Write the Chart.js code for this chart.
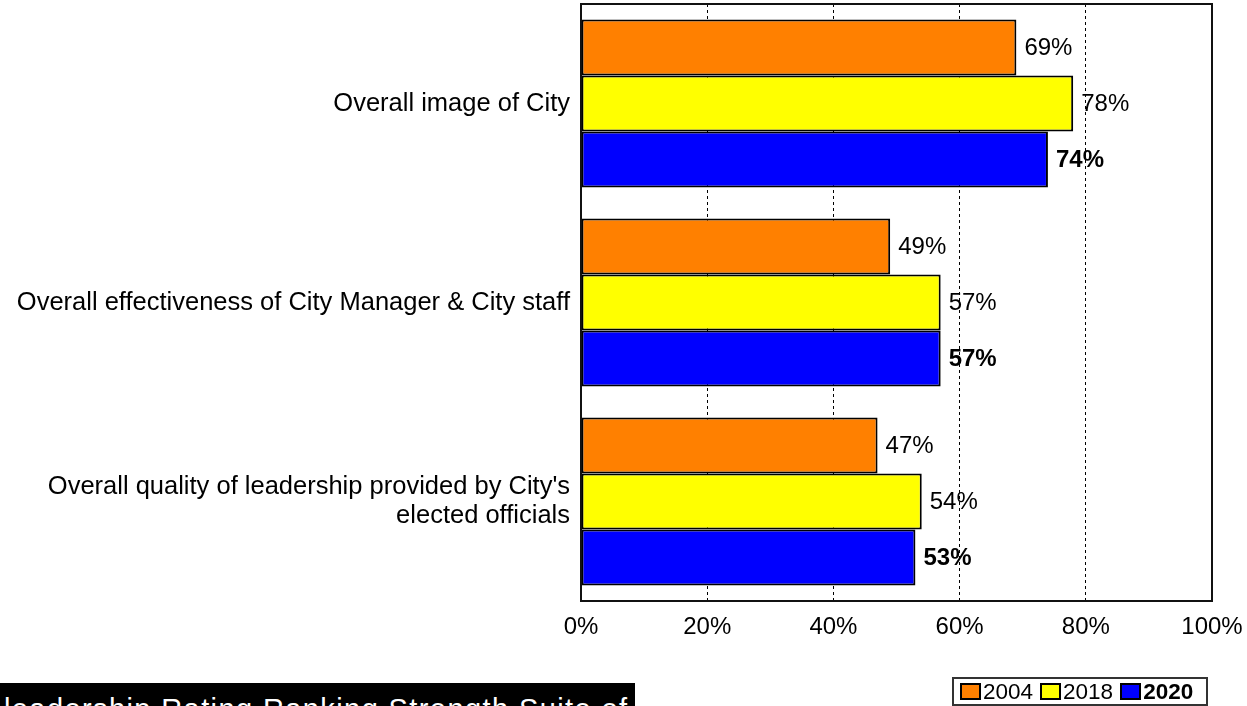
<!DOCTYPE html>
<html>
<head>
<meta charset="utf-8">
<script src="https://cdn.jsdelivr.net/npm/chart.js@4/dist/chart.umd.min.js"></script>
<style>
    html, body { margin: 0; padding: 0; background: #fff; }
    #wrap { position: relative; width: 1247px; height: 706px; overflow: hidden; }
    #chart { position: absolute; left: 0; top: 0; }
    .legend {
        position: absolute; left: 952px; top: 677px; width: 256px; height: 29px;
        border: 2px solid #333; box-sizing: border-box;
        font-family: "Liberation Sans", Arial, sans-serif; font-size: 22.5px; color: #000;
        display: flex; align-items: center; padding-left: 6px;
    }
    .legend span.item { display: flex; align-items: center; margin-right: 7px; }
    .legend span.sw { display: inline-block; width: 17px; height: 13px; border: 2px solid #000; margin-right: 2px; }
    .strip {
        position: absolute; left: 0; top: 683px; width: 635px; height: 23px; background: #000;
        overflow: hidden; color: #fff; font-family: "Liberation Sans", Arial, sans-serif;
        font-size: 29px; line-height: 29px; white-space: nowrap; letter-spacing: 1.4px;
    }
    .strip div { position: absolute; left: 4px; top: 12px; }
</style>
</head>
<body>
<div id="wrap">
    <canvas id="chart" width="1247" height="706"></canvas>
    <div class="legend" id="legend"></div>
    <div class="strip"><div>leadership Rating Ranking Strength Suite of</div></div>
</div>
<script>
// chart data
const categories = [
    ["Overall image of City"],
    ["Overall effectiveness of City Manager & City staff"],
    ["Overall quality of leadership provided by City's", "elected officials"]
];
const years = ["2004", "2018", "2020"];
const values2004 = [69, 49, 47];
const values2018 = [78, 57, 54];
const values2020 = [74, 57, 53];
const tickLabels = ["0%", "20%", "40%", "60%", "80%", "100%"];
const colors = ["#FF8000", "#FFFF00", "#0000FF"];

const FONT = '"Liberation Sans", Arial, sans-serif';

// value labels at the bar ends, last year in bold
const valueLabels = {
    id: 'valueLabels',
    afterDatasetsDraw(chart) {
        const ctx = chart.ctx;
        ctx.save();
        ctx.fillStyle = '#000';
        ctx.textBaseline = 'middle';
        ctx.textAlign = 'left';
        chart.data.datasets.forEach((ds, i) => {
            const meta = chart.getDatasetMeta(i);
            ctx.font = (i === 2 ? 'bold ' : '') + '24px ' + FONT;
            meta.data.forEach((bar, j) => {
                ctx.fillText(ds.data[j] + '%', bar.x + 8, bar.y + 1);
            });
        });
        ctx.restore();
    }
};

// frame round the plot area
const plotFrame = {
    id: 'plotFrame',
    afterDraw(chart) {
        const a = chart.chartArea;
        const ctx = chart.ctx;
        ctx.save();
        ctx.strokeStyle = '#111';
        ctx.lineWidth = 2;
        ctx.strokeRect(a.left, a.top, a.right - a.left, a.bottom - a.top);
        ctx.restore();
    }
};

const chart = new Chart(document.getElementById('chart'), {
    type: 'bar',
    data: {
        labels: categories,
        datasets: years.map((y, i) => ({
            label: y,
            data: [values2004, values2018, values2020][i],
            backgroundColor: colors[i],
            borderColor: '#000',
            borderWidth: 2,
            borderSkipped: false,
            barPercentage: 1,
            categoryPercentage: 0.845
        }))
    },
    options: {
        indexAxis: 'y',
        responsive: false,
        animation: false,
        devicePixelRatio: 1,
        layout: { padding: { top: 4, right: 35, left: 0, bottom: 0 } },
        plugins: {
            legend: { display: false },
            tooltip: { enabled: false }
        },
        scales: {
            x: {
                min: 0,
                max: 100,
                afterFit(scale) {
                    scale.height = 105;
                    scale.paddingLeft = 0;
                    scale.paddingRight = 0;
                },
                ticks: {
                    stepSize: 20,
                    padding: 12,
                    color: '#000',
                    font: { family: FONT, size: 24 },
                    callback: (v) => tickLabels[v / 20]
                },
                grid: {
                    drawTicks: false,
                    color: (c) => (c.tick && c.tick.value > 0 && c.tick.value < 100) ? '#000' : 'rgba(0,0,0,0)',
                    lineWidth: 1
                },
                border: { display: false, dash: [3, 3] }
            },
            y: {
                afterFit(scale) {
                    scale.width = 581;
                    scale.paddingTop = 0;
                    scale.paddingBottom = 0;
                },
                ticks: {
                    padding: 11,
                    color: '#000',
                    font: { family: FONT, size: 25.5, lineHeight: 1.15 }
                },
                grid: { display: false, drawTicks: false },
                border: { display: false }
            }
        }
    },
    plugins: [valueLabels, plotFrame]
});

// legend below the chart
const legend = document.getElementById('legend');
years.forEach((y, i) => {
    const item = document.createElement('span');
    item.className = 'item';
    item.innerHTML = `<span class="sw" style="background:${colors[i]}"></span><span${i === 2 ? ' style="font-weight:bold"' : ''}>${y}</span>`;
    legend.appendChild(item);
});
</script>
</body>
</html>
